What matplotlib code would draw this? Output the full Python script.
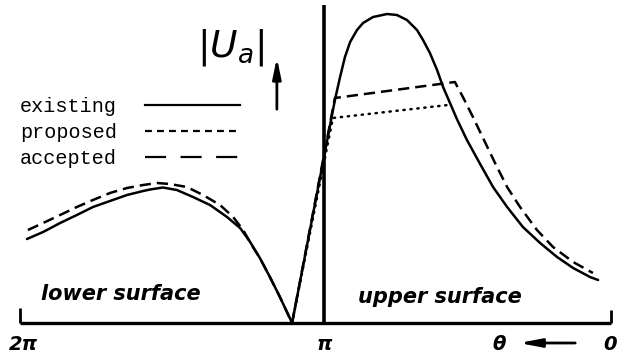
import numpy as np
import matplotlib.pyplot as plt
from matplotlib.lines import Line2D

# theta in units of pi (2 = lower trailing edge, 1 = leading edge, 0 = upper trailing edge)
# existing velocity distribution |U_a|
th_exist = np.array([1.977, 1.924, 1.868, 1.813, 1.760, 1.704, 1.648, 1.595, 1.572, 1.530,
                     1.484, 1.431, 1.375, 1.319, 1.276, 1.243, 1.211, 1.178, 1.145, 1.105,
                     1.0, 0.962, 0.944, 0.927, 0.909, 0.885, 0.864, 0.829, 0.780, 0.746,
                     0.711, 0.676, 0.655, 0.631, 0.606, 0.585, 0.561, 0.537, 0.502, 0.456,
                     0.411, 0.362, 0.307, 0.247, 0.188, 0.132, 0.073, 0.045])
u_exist = np.array([0.84, 0.91, 1.00, 1.08, 1.16, 1.22, 1.28, 1.32, 1.335, 1.355,
                    1.33, 1.26, 1.18, 1.06, 0.95, 0.81, 0.65, 0.46, 0.26, 0.0,
                    1.66, 2.23, 2.46, 2.66, 2.81, 2.93, 3.00, 3.06, 3.09, 3.08,
                    3.03, 2.93, 2.83, 2.70, 2.53, 2.36, 2.20, 2.04, 1.83, 1.59,
                    1.36, 1.16, 0.96, 0.80, 0.66, 0.55, 0.46, 0.43])

# proposed: flat-topped upper surface
th_prop = np.array([1.105, 0.969, 0.568])
u_prop = np.array([0.0, 2.05, 2.18])

# accepted distribution
th_acc = np.array([1.974, 1.924, 1.868, 1.813, 1.760, 1.704, 1.648, 1.595, 1.549, 1.507,
                   1.451, 1.398, 1.342, 1.299, 1.266, 1.234, 1.211, 1.178, 1.145, 1.105,
                   1.0, 0.962, 0.544, 0.516, 0.481, 0.446, 0.404, 0.362, 0.317, 0.258,
                   0.202, 0.132, 0.063])
u_acc = np.array([0.93, 1.00, 1.08, 1.16, 1.23, 1.30, 1.35, 1.38, 1.40, 1.39,
                  1.36, 1.28, 1.18, 1.06, 0.93, 0.76, 0.65, 0.46, 0.26, 0.0,
                  1.68, 2.25, 2.41, 2.26, 2.06, 1.85, 1.60, 1.36, 1.16, 0.93,
                  0.76, 0.61, 0.50])

legend_labels = ["existing", "proposed", "accepted"]


# lower surface (pi..2pi) is drawn slightly wider than the upper surface (0..pi)
def fwd(t):
    t = np.asarray(t, dtype=float)
    return np.where(t <= np.pi, t * 287 / np.pi, 287 + (t - np.pi) * 304 / np.pi)


def inv(u):
    u = np.asarray(u, dtype=float)
    return np.where(u <= 287, u * np.pi / 287, np.pi + (u - 287) * np.pi / 304)


fig = plt.figure(figsize=(6.2, 3.6), dpi=100)
ax = fig.add_axes([0, 0, 1, 1])
ax.set_xscale('function', functions=(fwd, inv))
ax.set_xlim(2 * np.pi + 20 * np.pi / 304, -9 * np.pi / 287)
ax.set_ylim(-0.37, 3.23)
ax.axis('off')

lw = 1.8
ax.plot(th_exist * np.pi, u_exist, color='black', lw=lw,
        solid_joinstyle='round', solid_capstyle='round')
ax.plot(th_prop * np.pi, u_prop, color='black', lw=lw, ls=(0, (0.5, 2.3)),
        dash_capstyle='round')
ax.plot(th_acc * np.pi, u_acc, color='black', lw=lw, ls=(0, (4.5, 2.4)))

# axis lines
ax.hlines(0, 0, 2 * np.pi, color='black', lw=2.4)
ax.vlines(np.pi, 0, 3.18, color='black', lw=2.6)
ax.vlines(2 * np.pi, 0, 0.15, color='black', lw=2.0)
ax.vlines(0, 0, 0.13, color='black', lw=2.0)

hand = dict(fontfamily='DejaVu Sans', fontweight='bold', fontstyle='italic', color='black')
ax.text(1.668 * np.pi, 0.29, 'lower surface', fontsize=15, ha='center', va='center', **hand)
ax.text(0.596 * np.pi, 0.26, 'upper surface', fontsize=15, ha='center', va='center', **hand)
ax.text(2 * np.pi - 0.03, -0.22, '2π', fontsize=14, ha='center', va='center', **hand)
ax.text(np.pi, -0.21, 'π', fontsize=14, ha='center', va='center', **hand)
ax.text(0.39 * np.pi, -0.21, 'θ', fontsize=14, ha='center', va='center', **hand)
ax.text(0.003 * np.pi, -0.21, '0', fontsize=14, ha='center', va='center', **hand)
ax.annotate('', xy=(0.33 * np.pi, -0.20), xytext=(0.115 * np.pi, -0.20),
            arrowprops=dict(arrowstyle='-|>,head_length=1.3,head_width=0.25',
                            color='black', lw=2))

ax.text(1.306 * np.pi, 2.75, r'$|U_a|$', fontsize=27, ha='center', va='center')
ax.annotate('', xy=(1.155 * np.pi, 2.68), xytext=(1.155 * np.pi, 2.11),
            arrowprops=dict(arrowstyle='-|>,head_length=1.2,head_width=0.25',
                            color='black', lw=2))

handles = [Line2D([], [], color='black', lw=1.6),
           Line2D([], [], color='black', lw=1.6, ls=(0, (3.1, 2.3))),
           Line2D([], [], color='black', lw=1.6, ls=(0, (9.5, 6.5)))]
fig.legend(handles, legend_labels, loc='upper left',
           bbox_to_anchor=(20 / 620, 1 - 97 / 360), frameon=False, markerfirst=False,
           prop=dict(family='Liberation Mono', size=14.5), handlelength=4.7,
           handletextpad=1.4, labelspacing=0.34, borderpad=0, borderaxespad=0)

fig.savefig('out.png', dpi=100)
